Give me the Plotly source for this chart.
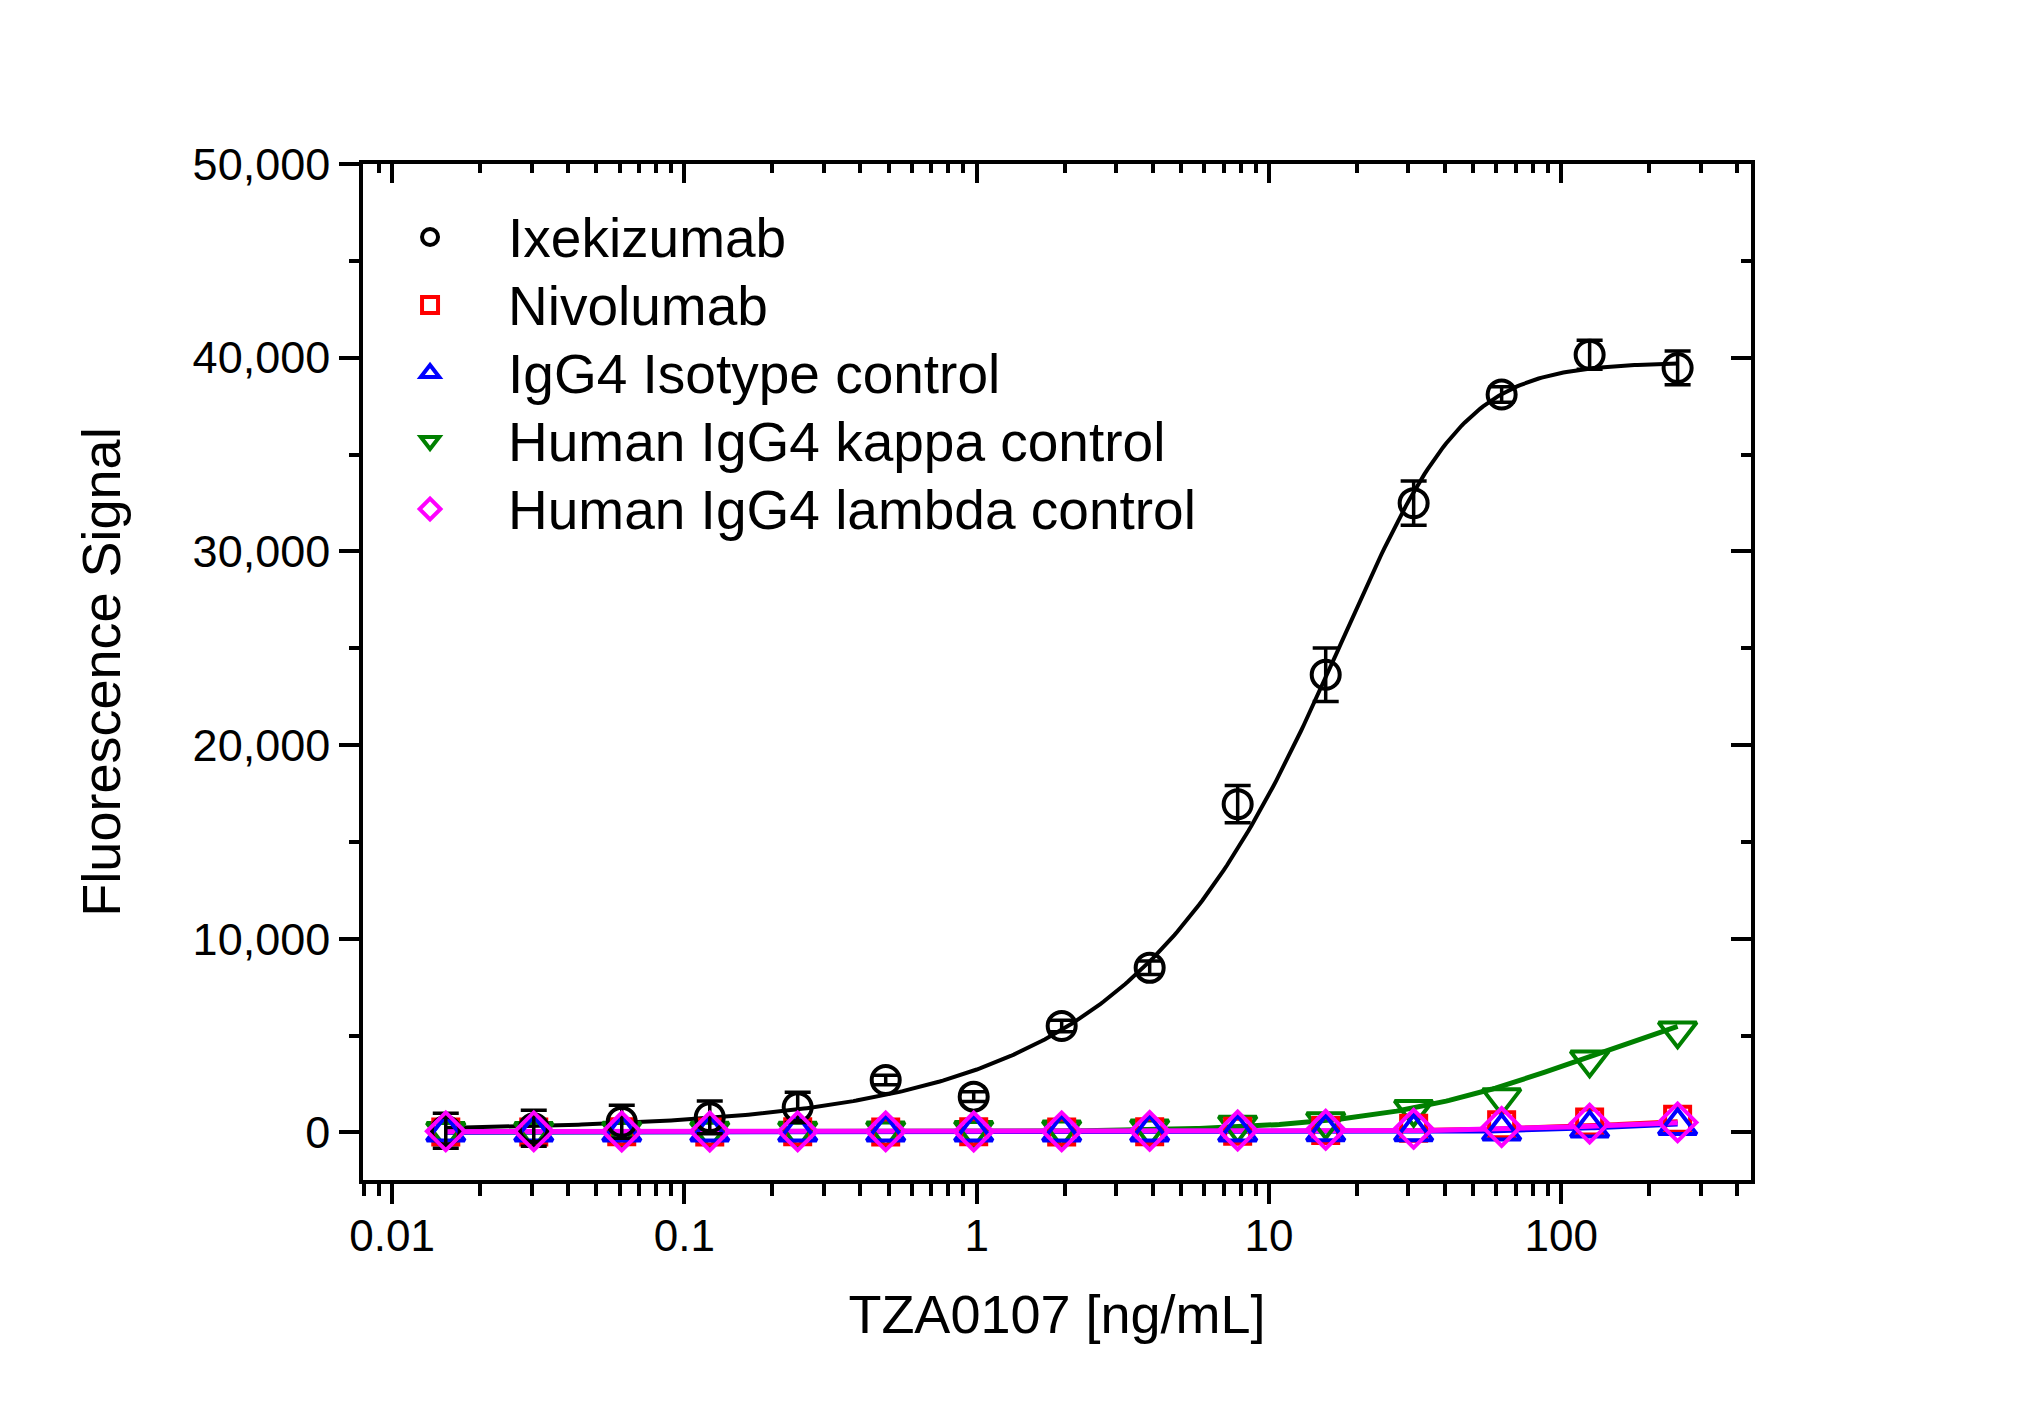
import numpy as np
import plotly.graph_objects as go

# ---------------- data ----------------
conc = [0.01526, 0.03052, 0.06104, 0.1221, 0.2441, 0.4883, 0.9766,
        1.953, 3.906, 7.813, 15.63, 31.25, 62.5, 125.0, 250.0]

ixekizumab = [90, 220, 550, 780, 1300, 2710, 1850,
              5500, 8500, 16950, 23630, 32490, 38100, 40150, 39470]
ixekizumab_err = [900, 930, 850, 850, 780, 250, 250,
                  300, 350, 960, 1380, 1140, 400, 750, 870]
nivolumab = [30, 30, 40, 30, 40, 30, 40, 30, 40, 60, 100, 220, 400, 540, 680]
isotype = [10, 10, 10, 10, 10, 10, 10, 10, 10, 10, 20, 30, 60, 220, 350]
kappa = [60, 60, 70, 70, 80, 90, 110, 140, 190, 380, 560, 1200, 1800, 3750, 5250]
lambda_ctrl = [60, 60, 50, 50, 60, 60, 50, 60, 80, 100, 140, 190, 280, 460, 520]

series_names = ["Ixekizumab", "Nivolumab", "IgG4 Isotype control",
                "Human IgG4 kappa control", "Human IgG4 lambda control"]

# fitted logistic curve parameters (bottom, top, ec50, hill, asymmetry)
fit_ixekizumab = [100, 39750, 29.3, 2.5, 0.3]
fit_nivolumab = [30, 950, 189, 1.3, 1.0]
fit_isotype = [15, 630, 165, 2.0, 1.0]
fit_kappa = [20, 7880, 126, 1.2, 1.0]
fit_lambda = [40, 748, 163, 1.5, 1.0]

x_tick_vals = [0.01, 0.1, 1, 10, 100]
x_tick_text = ["0.01", "0.1", "1", "10", "100"]
y_tick_vals = [0, 10000, 20000, 30000, 40000, 50000]

# ---------------- styling ----------------
FONT = "Liberation Sans, Arial, Helvetica, sans-serif"
colors = ["#000000", "#FF0000", "#0000FF", "#008000", "#FF00FF"]
symbols = ["circle-open", "square-open", "triangle-up-open",
           "triangle-down-open", "diamond-open"]
sizes = [28, 25, 33, 33, 29]
AXW = 3.5

xr = [-2.0996, 2.649]
yr = [-2454, 50000]


def logistic5(x, p):
    b, t, c, h, s = p
    x = np.asarray(x, dtype=float)
    return b + (t - b) / (1.0 + (c / x) ** h) ** s


xfit = np.logspace(np.log10(min(conc)), np.log10(max(conc)), 400)

fig = go.Figure()

fits = [fit_ixekizumab, fit_nivolumab, fit_isotype, fit_kappa, fit_lambda]
fit_order = [0, 3, 1, 2, 4]
fit_widths = [4, 4, 5, 5, 5]
for i in fit_order:
    fig.add_trace(go.Scatter(
        x=xfit, y=logistic5(xfit, fits[i]), mode="lines",
        line=dict(color=colors[i], width=fit_widths[i]),
        showlegend=False, hoverinfo="skip"))

values = [ixekizumab, nivolumab, isotype, kappa, lambda_ctrl]
marker_order = [3, 1, 2, 0, 4]
traces = {}
for i in range(5):
    kw = {}
    if i == 0:
        kw["error_y"] = dict(type="data", array=ixekizumab_err, visible=True,
                             color="black", thickness=3.5, width=13)
    traces[i] = go.Scatter(
        x=conc, y=values[i], mode="markers",
        name="<span style='font-size:55px'>" + series_names[i] + "</span>",
        marker=dict(symbol=symbols[i], size=sizes[i], color=colors[i],
                    line=dict(width=4, color=colors[i])),
        legendrank=i + 1, **kw)
for i in marker_order:
    fig.add_trace(traces[i])

# dummy trace to activate mirrored (inside-tick) axes
fig.add_trace(go.Scatter(x=[None], y=[None], xaxis="x2", yaxis="y2",
                         showlegend=False, hoverinfo="skip"))

minor_x = [m * 10.0 ** e for e in range(-3, 3) for m in range(2, 10)]
minor_x = [v for v in minor_x if 10 ** xr[0] <= v <= 10 ** xr[1]]

common_x = dict(type="log", range=xr, showline=True, linewidth=AXW,
                linecolor="black", tickcolor="black", tickwidth=AXW,
                tickmode="array", tickvals=x_tick_vals, ticktext=x_tick_text,
                showgrid=False, zeroline=False)
common_y = dict(range=yr, showline=True, linewidth=AXW, linecolor="black",
                tickcolor="black", tickwidth=AXW, tickmode="array",
                tickvals=y_tick_vals, showgrid=False, zeroline=False)

fig.update_layout(
    width=2034, height=1417,
    margin=dict(l=363, r=283, t=164, b=237, pad=0),
    plot_bgcolor="white", paper_bgcolor="white",
    font=dict(family=FONT, color="black", size=44),
    xaxis=dict(**common_x, ticks="outside", ticklen=20, ticklabelstandoff=-6,
               tickfont=dict(size=44, family=FONT),
               minor=dict(tickmode="array", tickvals=minor_x, ticks="outside",
                          ticklen=12, tickwidth=AXW, tickcolor="black",
                          showgrid=False),
               title=dict(text="TZA0107 [ng/mL]", font=dict(size=54, family=FONT),
                          standoff=38)),
    yaxis=dict(**common_y, ticks="outside", ticklen=20, tickformat=",",
               tickfont=dict(size=45, family=FONT),
               minor=dict(tickmode="linear", tick0=0, dtick=5000, ticks="outside",
                          ticklen=10, tickwidth=AXW, tickcolor="black",
                          showgrid=False),
               title=dict(text="Fluorescence Signal", font=dict(size=54, family=FONT),
                          standoff=56)),
    xaxis2=dict(**common_x, overlaying="x", side="top", anchor="y2",
                ticks="inside", ticklen=19, showticklabels=False,
                minor=dict(tickmode="array", tickvals=minor_x, ticks="inside",
                           ticklen=9, tickwidth=AXW, tickcolor="black",
                           showgrid=False)),
    yaxis2=dict(**common_y, overlaying="y", side="right", anchor="x2",
                ticks="inside", ticklen=20, showticklabels=False,
                minor=dict(tickmode="linear", tick0=0, dtick=5000, ticks="inside",
                           ticklen=10, tickwidth=AXW, tickcolor="black",
                           showgrid=False)),
    legend=dict(x=-0.0079, y=0.9665, xanchor="left", yanchor="top",
                font=dict(size=50, family=FONT), itemwidth=146,
                bgcolor="rgba(0,0,0,0)", borderwidth=0,
                traceorder="normal"),
)

fig.write_html("out.html")
